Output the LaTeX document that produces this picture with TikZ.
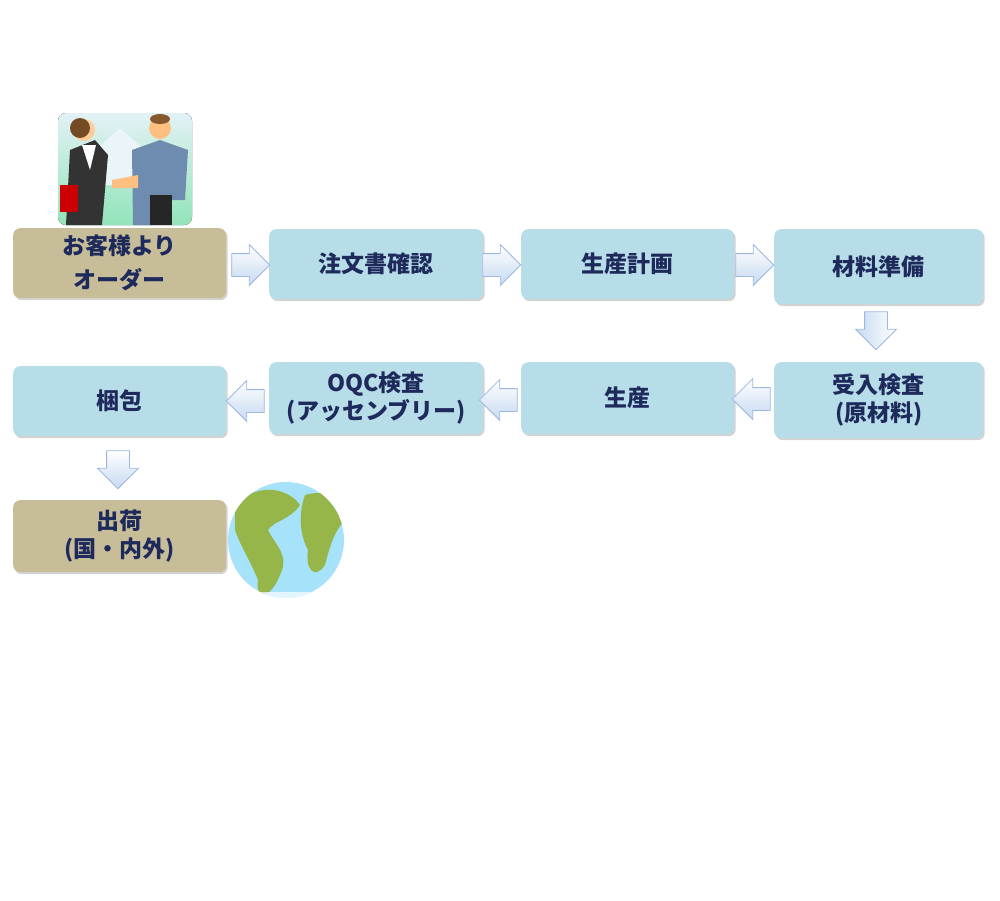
\documentclass[tikz,border=0pt]{standalone}
\usepackage{fontspec}
\newfontfamily\jp{Noto Sans CJK JP}[BoldFont={* Black}]
\usetikzlibrary{shapes.arrows,shadows}
\definecolor{bluebox}{HTML}{B7DDE8}
\definecolor{tanbox}{HTML}{C7BE99}
\definecolor{txt}{HTML}{1F2A5C}
\definecolor{arredge}{HTML}{9DB8E0}
\definecolor{arrfill}{HTML}{C6D9F1}
\definecolor{shirt}{HTML}{6E8BB0}
\tikzset{
 box/.style={rounded corners=7pt, fill=bluebox, draw=none, anchor=north west,
   font=\jp\bfseries\fontsize{23}{28}\selectfont, text=txt, align=center,
   drop shadow={shadow xshift=1.5pt, shadow yshift=-2pt, opacity=0.35}},
 tan/.style={box, fill=tanbox},
 barr/.style={single arrow, draw=arredge, line width=0.8pt, top color=white, bottom color=arrfill,
   minimum height=38pt, inner sep=11pt, single arrow head extend=9pt}
}
\begin{document}
\begin{tikzpicture}[x=1pt,y=-1pt]
\useasboundingbox (0,0) rectangle (1000,900);
% handshake picture
\begin{scope}
\fill[rounded corners=8pt, top color=white!60!bluebox, bottom color=green!20!bluebox] (58,113) rectangle (192,225);
\fill[white!70!bluebox] (95,185) -- (95,150) -- (120,128) -- (145,150) -- (145,185) -- cycle;
\fill[black!80] (66,225) -- (70,150) -- (95,140) -- (108,155) -- (102,225) -- cycle;
\fill[white] (82,145) -- (90,170) -- (96,145) -- cycle;
\fill[orange!40!white] (84,130) circle (11);
\fill[brown!60!black] (80,128) circle (10);
\fill[red!80!black] (60,185) rectangle (78,212);
\fill[shirt] (133,225) -- (132,150) -- (160,140) -- (188,150) -- (185,200) -- (172,200) -- (170,225) -- cycle;
\fill[black!85] (150,195) rectangle (172,225);
\fill[orange!50!white] (160,128) circle (11);
\fill[brown!70!black] (160,119) ellipse (10 and 5);
\fill[orange!50!white] (112,180) -- (138,175) -- (138,188) -- (112,188) -- cycle;
\end{scope}
% boxes
\node[tan, minimum width=213pt, minimum height=70pt] (order) at (13,228) {お客様より\\[6pt]オーダー};
\node[box, minimum width=214pt, minimum height=70pt] (confirm) at (269,229) {注文書確認};
\node[box, minimum width=213pt, minimum height=70pt] (plan) at (521,229) {生産計画};
\node[box, minimum width=209pt, minimum height=75pt] (mat) at (774,229) {材料準備};
\node[box, minimum width=209pt, minimum height=76pt] (iqc) at (774,362) {受入検査\\(原材料)};
\node[box, minimum width=213pt, minimum height=72pt] (prod) at (521,362) {生産};
\node[box, minimum width=214pt, minimum height=72pt] (oqc) at (269,362) {OQC検査\\(アッセンブリー)};
\node[box, minimum width=213pt, minimum height=70pt] (pack) at (13,366) {梱包};
\node[tan, minimum width=213pt, minimum height=72pt] (ship) at (13,500) {出荷\\(国・内外)};
% arrows
\node[barr] (a1) at (245,265) {};
\node[barr] (a2) at (496,265) {};
\node[barr] (a3) at (749,265) {};
\node[barr, rotate=-90, shading angle=-90] (a4) at (876,325) {};
\node[barr, rotate=180] (a5) at (757,399) {};
\node[barr, rotate=180] (a6) at (504,400) {};
\node[barr, rotate=180] (a7) at (251,401) {};
\node[barr, rotate=-90] (a8) at (118,464) {};
% globe
\begin{scope}
\fill[fill=cyan!35!white] (286,540) circle (58);
\clip (286,540) circle (58);
\fill[olive!60!green!70!white] (235,505) .. controls (260,480) and (290,490) .. (300,505) .. controls (290,520) and (275,520) .. (268,530) .. controls (275,545) and (290,555) .. (280,575) .. controls (270,600) and (255,600) .. (258,580) .. controls (250,560) and (240,545) .. (235,530) -- cycle;
\fill[olive!60!green!70!white] (305,495) .. controls (330,488) and (345,500) .. (345,520) .. controls (335,530) and (330,545) .. (325,565) .. controls (315,580) and (305,570) .. (308,550) .. controls (300,535) and (298,515) .. (305,495) -- cycle;
\fill[white, opacity=0.7] (228,592) rectangle (345,630);
\end{scope}
\end{tikzpicture}
\end{document}
